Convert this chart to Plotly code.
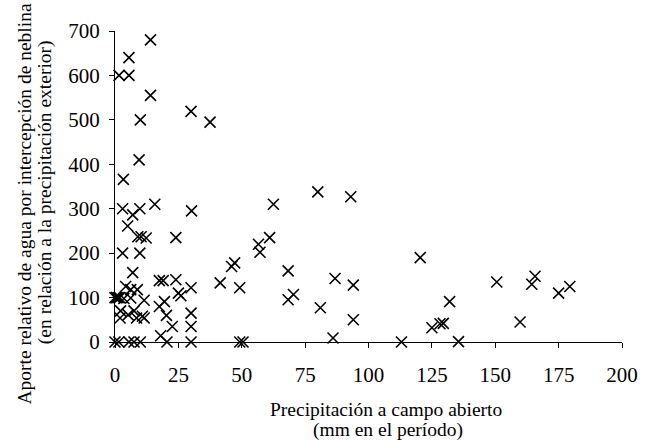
import plotly.graph_objects as go

# Precipitación a campo abierto (mm)
precip = [
    14, 5.5, 1.6, 5.5, 14, 10, 30, 37.5, 9.5, 3.3,
    3, 7, 9.8, 15.7, 30.2, 62.5, 5, 9, 10.3, 12.3, 24, 61, 56.6, 57.2, 3, 9.8,
    7, 46, 47.2, 68.3, 80, 93, 120.4,
    17.5, 19, 24, 30, 25, 26, 41.5, 49.2, 4.2, 6.2, 8.8, 3.5, 6.2, 11.5,
    0, 0.6, 1.2, 1.8, 68.3, 70.4, 86.8, 94, 150.6, 164.4, 165.7, 175, 179.4, 132,
    19.5, 17.5, 2.2, 7.5, 10.8, 2, 5.2, 8.5, 11.5, 20.3, 22.6, 30, 30, 18,
    81, 94, 86, 125, 128.2, 129.5, 159.8,
    0, 1.5, 5.5, 7.5, 10, 20.5, 30, 49.2, 50.5, 113, 135.5,
]
# Aporte relativo de agua por intercepción de neblina (%)
aporte = [
    680, 640, 600, 600, 555, 500, 519, 495, 410, 366,
    300, 286, 300, 310, 295, 310, 261, 237, 237, 234, 235, 235, 220, 202, 200, 200,
    156, 170, 178, 160, 338, 327, 190,
    138, 138, 140, 122, 110, 104, 133, 122, 125, 118, 118, 98, 99, 94,
    100, 100, 100, 100, 95, 107, 143, 128, 135, 130, 148, 110, 125, 91,
    91, 80, 70, 70, 58, 54, 61, 54, 54, 60, 35, 65, 35, 14,
    77, 50, 9, 32, 41, 42, 45,
    0, 0, 0, 0, 0, 0, 0, 0, 0, 0, 1,
]

x_ticks = [0, 25, 50, 75, 100, 125, 150, 175, 200]
y_ticks = [0, 100, 200, 300, 400, 500, 600, 700]

x_title = ["Precipitación a campo abierto", "(mm en el período)"]
y_title = ["Aporte relativo de agua por intercepción de neblina",
           "(en relación a la precipitación exterior)"]

FONT = "Liberation Serif, Times New Roman, serif"
TICK_SIZE = 21
TITLE_SIZE = 19.5

fig = go.Figure(
    go.Scatter(
        x=precip,
        y=aporte,
        mode="markers",
        marker=dict(symbol="x-thin-open", size=11, color="black",
                    line=dict(color="black", width=1.6)),
        cliponaxis=False,
        showlegend=False,
        hoverinfo="skip",
    )
)

fig.update_layout(
    width=649,
    height=445,
    margin=dict(l=115, r=27, t=31, b=103),
    paper_bgcolor="white",
    plot_bgcolor="white",
    font=dict(family=FONT, size=TICK_SIZE, color="black"),
)

axis_style = dict(
    showgrid=False,
    zeroline=False,
    showline=True,
    linecolor="black",
    linewidth=1,
    ticks="outside",
    ticklen=5,
    tickcolor="black",
    tickfont=dict(family=FONT, size=TICK_SIZE, color="black"),
    automargin=False,
)

fig.update_xaxes(range=[0, 200], tickvals=x_ticks,
                 ticktext=[str(v) for v in x_ticks],
                 ticklabelstandoff=9, **axis_style)
fig.update_yaxes(range=[0, 700], tickvals=y_ticks,
                 ticktext=[str(v) for v in y_ticks],
                 ticklabelstandoff=5, **axis_style)

# axis titles as text annotations (paper coordinates)
title_font = dict(family=FONT, size=TITLE_SIZE, color="black")
fig.add_annotation(text=x_title[0], xref="paper", yref="paper",
                   x=0.5345, y=-0.2186, showarrow=False, font=title_font,
                   xanchor="center", yanchor="middle")
fig.add_annotation(text=x_title[1], xref="paper", yref="paper",
                   x=0.5375, y=-0.283, showarrow=False, font=title_font,
                   xanchor="center", yanchor="middle")
fig.add_annotation(text=y_title[0], xref="paper", yref="paper",
                   x=-0.1775, y=0.445, showarrow=False, font=title_font,
                   textangle=-90, xanchor="center", yanchor="middle")
fig.add_annotation(text=y_title[1], xref="paper", yref="paper",
                   x=-0.138, y=0.482, showarrow=False, font=title_font,
                   textangle=-90, xanchor="center", yanchor="middle")

# remove the default page margin so the figure fills the window exactly
fig.write_html("out.html",
               config={"displayModeBar": False},
               post_script="document.body.style.margin='0';"
                           "document.body.style.overflow='hidden';")
